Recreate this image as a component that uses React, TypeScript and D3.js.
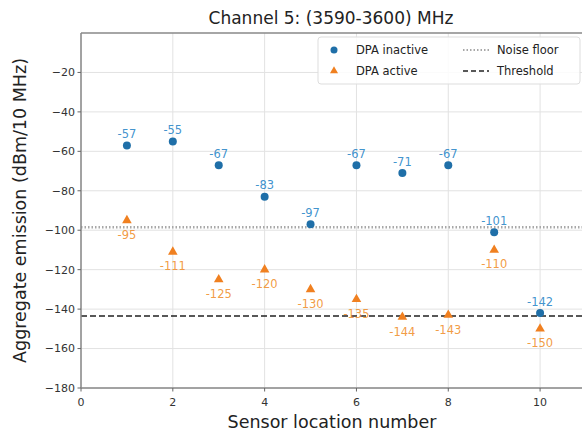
import React from 'react';
import * as d3 from 'd3';

const sensors = [1, 2, 3, 4, 5, 6, 7, 8, 9, 10];
const dpaInactive = [-57, -55, -67, -83, -97, -67, -71, -67, -101, -142];
const dpaActive = [-95, -111, -125, -120, -130, -135, -144, -143, -110, -150];
const noiseFloor = -98.5;
const threshold = -143.5;
const xTicks = [0, 2, 4, 6, 8, 10];
const yTicks = [-180, -160, -140, -120, -100, -80, -60, -40, -20];

const W = 582;
const H = 435;
const margin = { left: 81, top: 33, right: -4, bottom: 47 };
const font = 'DejaVu Sans, sans-serif';
const blue = '#1f6fa8';
const blueText = '#2a86c8';
const orange = '#f08020';
const orangeText = '#f0902e';

export default function App() {
  const x = d3.scaleLinear().domain([0, 11]).range([margin.left, W - margin.right]);
  const y = d3.scaleLinear().domain([-180, 0]).range([H - margin.bottom, margin.top]);
  const tri = d3.symbol().type(d3.symbolTriangle).size(40)();
  const x0 = x.range()[0];
  const x1 = x.range()[1];
  const y0 = y.range()[0];
  const y1 = y.range()[1];

  return (
    <svg width={W} height={H} style={{ position: 'absolute', left: 0, top: 0, background: '#fff' }}>
      <rect width={W} height={H} fill="#fff" />
      {/* grid */}
      {xTicks.map(t => (
        <line key={'gx' + t} x1={x(t)} x2={x(t)} y1={y0} y2={y1} stroke="#e2e2e2" strokeWidth={1} />
      ))}
      {yTicks.map(t => (
        <line key={'gy' + t} x1={x0} x2={x1} y1={y(t)} y2={y(t)} stroke="#e2e2e2" strokeWidth={1} />
      ))}
      {/* reference lines */}
      <line x1={x0} x2={x1} y1={y(noiseFloor)} y2={y(noiseFloor)} stroke="#a8a8a8" strokeWidth={2.5} strokeDasharray="1.5,2" />
      <line x1={x0} x2={x1} y1={y(threshold)} y2={y(threshold)} stroke="#222" strokeWidth={1.6} strokeDasharray="6,3" />
      {/* points */}
      {sensors.map((s, i) => (
        <g key={'a' + s}>
          <path d={tri} transform={`translate(${x(s)},${y(dpaActive[i])})`} fill={orange} />
          <text x={x(s)} y={y(dpaActive[i]) + 18.5} textAnchor="middle" fontFamily={font} fontSize={11.5} fill={orangeText} fillOpacity={0.9}>
            {dpaActive[i]}
          </text>
        </g>
      ))}
      {sensors.map((s, i) => (
        <g key={'i' + s}>
          <circle cx={x(s)} cy={y(dpaInactive[i])} r={4} fill={blue} />
          <text x={x(s)} y={y(dpaInactive[i]) - 7.5} textAnchor="middle" fontFamily={font} fontSize={11.5} fill={blueText} fillOpacity={0.9}>
            {dpaInactive[i]}
          </text>
        </g>
      ))}
      {/* spines */}
      <line x1={x0} x2={x0} y1={y0} y2={y1} stroke="#888" strokeWidth={1.5} />
      <line x1={x0} x2={x1} y1={y0} y2={y0} stroke="#888" strokeWidth={1.5} />
      <line x1={x0} x2={x1} y1={y1} y2={y1} stroke="#888" strokeWidth={1.5} />
      {/* ticks */}
      {yTicks.map(t => (
        <g key={'ty' + t}>
          <line x1={x0 - 3.5} x2={x0} y1={y(t)} y2={y(t)} stroke="#666" />
          <text x={x0 - 6} y={y(t)} dy="0.35em" textAnchor="end" fontFamily={font} fontSize={11} fill="#333">
            {'\u2212' + Math.abs(t)}
          </text>
        </g>
      ))}
      {xTicks.map(t => (
        <g key={'tx' + t}>
          <line x1={x(t)} x2={x(t)} y1={y0} y2={y0 + 3.5} stroke="#666" />
          <text x={x(t)} y={y0 + 18} textAnchor="middle" fontFamily={font} fontSize={11} fill="#333">
            {t}
          </text>
        </g>
      ))}
      {/* labels */}
      <text x={331} y={24} textAnchor="middle" fontFamily={font} fontSize={17} fill="#222">
        Channel 5: (3590-3600) MHz
      </text>
      <text x={332} y={428} textAnchor="middle" fontFamily={font} fontSize={17.5} fill="#222">
        Sensor location number
      </text>
      <text transform={`translate(26,${(y0 + y1) / 2}) rotate(-90)`} textAnchor="middle" fontFamily={font} fontSize={17.5} fill="#222">
        Aggregate emission (dBm/10 MHz)
      </text>
      {/* legend */}
      <g fontFamily={font} fontSize={11.5} fill="#222">
        <rect x={318} y={37} width={262} height={47} rx={3} fill="#fff" fillOpacity={0.85} stroke="#ddd" />
        <circle cx={334} cy={50} r={3.5} fill={blue} />
        <text x={356} y={50} dy="0.35em">DPA inactive</text>
        <path d={d3.symbol().type(d3.symbolTriangle).size(28)()} transform="translate(334,71)" fill={orange} />
        <text x={356} y={71} dy="0.35em">DPA active</text>
        <line x1={463} x2={489} y1={50} y2={50} stroke="#a8a8a8" strokeWidth={2} strokeDasharray="1.5,2" />
        <text x={497} y={50} dy="0.35em">Noise floor</text>
        <line x1={463} x2={489} y1={71} y2={71} stroke="#222" strokeWidth={1.5} strokeDasharray="5,3" />
        <text x={497} y={71} dy="0.35em">Threshold</text>
      </g>
    </svg>
  );
}
